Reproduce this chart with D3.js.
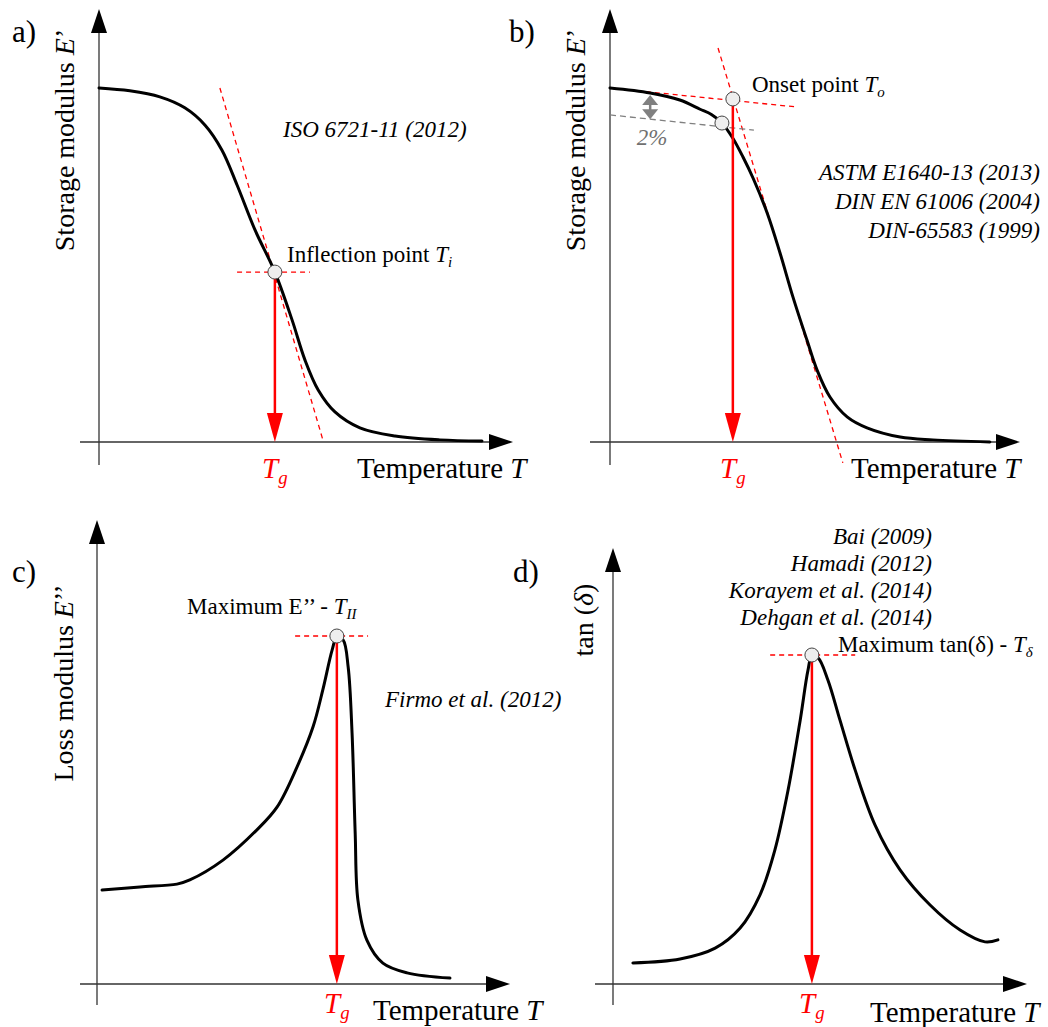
<!DOCTYPE html>
<html>
<head>
<meta charset="utf-8">
<script src="https://cdn.jsdelivr.net/npm/d3@7"></script>
<style>
  html, body { margin: 0; padding: 0; background: #fff; }
  svg { display: block; font-family: "Liberation Serif", "Times New Roman", serif; }
</style>
</head>
<body>
<div id="chart"></div>
<script>
// Normalised units: temperature 0..100 along x, property 0..100 along y
// a) storage modulus, inflection method
const curveA = [[0,100],[7.9,99.2],[15.6,97.5],[22.0,94.4],[27.2,89.5],[31.5,82.5],[35.4,72.6],
  [40.0,59.9],[45.1,48.0],[49.5,34.5],[52.8,23.2],[56.2,14.7],[60.5,8.5],[66.9,4.0],[75.9,1.7],
  [87.4,0.6],[98.2,0.3]];
const tangentA = [[31.0,100],[57.4,0.6]];
const levelA = [[35.4,48],[54.1,48]];
const pointA = [45.1,48];

// b) storage modulus, onset method
const curveB = [[0,100],[10.3,98.6],[17.9,96.6],[23.1,94.0],[26.0,92.5],[28.7,90.1],[31.5,85.8],
  [34.1,80.5],[36.7,74.5],[40.3,64.7],[43.6,53.4],[46.9,41.0],[50.5,28.8],[53.1,20.3],[56.4,12.7],
  [60.8,7.1],[65.9,4.0],[74.4,1.4],[82.8,0.6],[97.4,0]];
const flatTangentB = [[0,100],[48.2,94.6]];
const steepTangentB = [[27.7,111.3],[59.7,-5.9]];
const offsetLineB = [[0,92.4],[36.9,88.1]];
const onsetB = [31.5,96.9];
const offsetPointB = [28.7,90.1];
const gapB = { x: 10.3, top: 98.0, bottom: 91.2 };

// c) loss modulus peak
const curveC = [[1.3,27.0],[11.0,27.9],[20.5,28.7],[23.8,29.9],[32.3,35.6],[41.0,44.3],[46.2,50.9],
  [51.3,62.4],[55.4,73.9],[57.9,84.5],[60.3,96.0],[61.5,99.7],[63.1,98.9],[64.4,91.1],[65.4,72.1],
  [66.2,43.4],[66.9,24.1],[69.2,12.6],[73.3,6.0],[79.5,3.2],[90.5,1.7]];
const levelC = [[50.8,100],[69.5,100]];
const pointC = [61.5,100];

// d) tan delta peak
const curveD = [[5.1,6.4],[17.2,7.6],[26.2,10.9],[32.6,17.0],[37.7,27.1],[41.5,40.7],[44.9,59.0],
  [48.0,80.2],[50.0,95.4],[51.0,99.7],[52.6,99.1],[55.1,92.4],[58.2,80.2],[62.1,65.0],[67.2,48.3],
  [73.6,34.7],[81.3,24.0],[89.0,16.4],[95.4,12.8],[98.7,13.4]];
const levelD = [[40.3,100],[62.1,100]];
const pointD = [51.0,100];

const stdA = ["ISO 6721-11 (2012)"];
const stdB = ["ASTM E1640-13 (2013)", "DIN EN 61006 (2004)", "DIN-65583 (1999)"];
const stdC = ["Firmo et al. (2012)"];
const stdD = ["Bai (2009)", "Hamadi (2012)", "Korayem et al. (2014)", "Dehgan et al. (2014)"];

const width = 1048, height = 1027;
const RED = "#ff0000";

const svg = d3.select("#chart").append("svg")
  .attr("width", width)
  .attr("height", height);

// rich text helper: parts = [{t, it, sub}]
function rich(g, x, y, parts, size, opts = {}) {
  const txt = g.append("text")
    .attr("x", x).attr("y", y)
    .attr("font-size", size)
    .attr("fill", opts.fill || "#000")
    .attr("text-anchor", opts.anchor || "start");
  if (opts.rotate) txt.attr("transform", `rotate(-90,${x},${y})`);
  let shifted = 0;
  parts.forEach(p => {
    const ts = txt.append("tspan").text(p.t);
    if (p.it) ts.attr("font-style", "italic");
    if (p.sub) {
      ts.attr("font-size", size * 0.65).attr("dy", size * 0.2 - shifted);
      shifted = size * 0.2;
    } else if (shifted) {
      ts.attr("dy", -shifted);
      shifted = 0;
    }
  });
  return txt;
}

function drawPanel(cfg) {
  const g = svg.append("g");
  const x = d3.scaleLinear().domain([0, 100]).range([cfg.ox, cfg.ox + cfg.w]);
  const y = d3.scaleLinear().domain([0, 100]).range([cfg.oy, cfg.oy - cfg.h]);
  const line = d3.line().x(d => x(d[0])).y(d => y(d[1]));

  // axes with arrow heads
  g.append("line")
    .attr("x1", cfg.ox).attr("x2", cfg.ox)
    .attr("y1", cfg.axBottom).attr("y2", cfg.axTop + 20)
    .attr("stroke", "#333").attr("stroke-width", 1.3);
  g.append("line")
    .attr("x1", cfg.axLeft).attr("x2", cfg.axRight - 20)
    .attr("y1", cfg.oy).attr("y2", cfg.oy)
    .attr("stroke", "#333").attr("stroke-width", 1.3);
  g.append("path")
    .attr("d", `M${cfg.ox},${cfg.axTop} L${cfg.ox - 8},${cfg.axTop + 24} L${cfg.ox + 8},${cfg.axTop + 24}Z`)
    .attr("fill", "#000");
  g.append("path")
    .attr("d", `M${cfg.axRight},${cfg.oy} L${cfg.axRight - 24},${cfg.oy - 8} L${cfg.axRight - 24},${cfg.oy + 8}Z`)
    .attr("fill", "#000");

  // construction lines
  (cfg.redDash || []).forEach(seg => {
    g.append("path").attr("d", line(seg))
      .attr("fill", "none").attr("stroke", RED)
      .attr("stroke-width", 1.3).attr("stroke-dasharray", "5,4");
  });
  (cfg.grayDash || []).forEach(seg => {
    g.append("path").attr("d", line(seg))
      .attr("fill", "none").attr("stroke", "#808080")
      .attr("stroke-width", 1.3).attr("stroke-dasharray", "6,4");
  });

  // main curve
  g.append("path")
    .attr("d", line.curve(d3.curveCatmullRom.alpha(0.5))(cfg.curve))
    .attr("fill", "none").attr("stroke", "#000")
    .attr("stroke-width", 3).attr("stroke-linecap", "round");
  line.curve(d3.curveLinear);

  // red Tg arrow
  const px = x(cfg.tg[0]), py = y(cfg.tg[1]);
  g.append("line")
    .attr("x1", px).attr("x2", px)
    .attr("y1", py).attr("y2", cfg.oy - 28)
    .attr("stroke", RED).attr("stroke-width", 2.5);
  g.append("path")
    .attr("d", `M${px},${cfg.oy} L${px - 8},${cfg.oy - 29} L${px + 8},${cfg.oy - 29}Z`)
    .attr("fill", RED);

  // marker circles
  (cfg.points || []).forEach(p => {
    g.append("circle")
      .attr("cx", x(p[0])).attr("cy", y(p[1])).attr("r", 7)
      .attr("fill", "#eeeeee").attr("stroke", "#444").attr("stroke-width", 1);
  });

  // labels
  rich(g, px, cfg.tgY, [{ t: "T", it: true }, { t: "g", it: true, sub: true }], 29,
    { fill: RED, anchor: "middle" });
  rich(g, cfg.tempX, cfg.tempY, [{ t: "Temperature " }, { t: "T", it: true }], 29);
  rich(g, cfg.ylab[0], cfg.ylab[1], cfg.ylabParts, 28, { anchor: "middle", rotate: true });
  g.append("text").attr("x", cfg.letter[0]).attr("y", cfg.letter[1])
    .attr("font-size", 31).text(cfg.id + ")");

  // standards
  g.selectAll("text.std").data(cfg.stds).enter().append("text")
    .attr("class", "std")
    .attr("x", cfg.stdPos[0])
    .attr("y", (d, i) => cfg.stdPos[1] + i * cfg.stdStep)
    .attr("text-anchor", cfg.stdAnchor)
    .attr("font-size", 23).attr("font-style", "italic")
    .text(d => d);

  return { g, x, y };
}

// a)
const pa = drawPanel({
  id: "a", ox: 99, oy: 442, w: 390, h: 354, axTop: 9, axBottom: 465, axLeft: 80, axRight: 513,
  curve: curveA, redDash: [tangentA, levelA], points: [pointA], tg: pointA,
  tgY: 478, tempX: 357, tempY: 478,
  ylab: [74, 140], ylabParts: [{ t: "Storage modulus " }, { t: "E", it: true }, { t: "’" }],
  letter: [12, 42], stds: stdA, stdPos: [283, 137], stdStep: 29, stdAnchor: "start"
});
rich(pa.g, 287, 262, [{ t: "Inflection point " }, { t: "T", it: true }, { t: "i", it: true, sub: true }], 23);

// b)
const pb = drawPanel({
  id: "b", ox: 610, oy: 442, w: 390, h: 354, axTop: 9, axBottom: 465, axLeft: 590, axRight: 1020,
  curve: curveB, redDash: [flatTangentB, steepTangentB], grayDash: [offsetLineB],
  points: [onsetB, offsetPointB], tg: onsetB,
  tgY: 478, tempX: 851, tempY: 478,
  ylab: [585, 140], ylabParts: [{ t: "Storage modulus " }, { t: "E", it: true }, { t: "’" }],
  letter: [509, 42], stds: stdB, stdPos: [1040, 180], stdStep: 29, stdAnchor: "end"
});
rich(pb.g, 752, 92, [{ t: "Onset point " }, { t: "T", it: true }, { t: "o", it: true, sub: true }], 23);
{
  const gx = pb.x(gapB.x), gt = pb.y(gapB.top), gb = pb.y(gapB.bottom);
  pb.g.append("line").attr("x1", gx).attr("x2", gx).attr("y1", gt + 8).attr("y2", gb - 8)
    .attr("stroke", "#808080").attr("stroke-width", 2.5);
  pb.g.append("path").attr("d", `M${gx},${gt} L${gx - 8},${gt + 10} L${gx + 8},${gt + 10}Z`).attr("fill", "#808080");
  pb.g.append("path").attr("d", `M${gx},${gb} L${gx - 8},${gb - 10} L${gx + 8},${gb - 10}Z`).attr("fill", "#808080");
  pb.g.append("text").attr("x", gx + 2).attr("y", 145).attr("text-anchor", "middle")
    .attr("font-size", 23).attr("font-style", "italic").attr("fill", "#707070").text("2%");
}

// c)
const pc = drawPanel({
  id: "c", ox: 97, oy: 984, w: 390, h: 348, axTop: 520, axBottom: 1005, axLeft: 80, axRight: 510,
  curve: curveC, redDash: [levelC], points: [pointC], tg: pointC,
  tgY: 1013, tempX: 373, tempY: 1020,
  ylab: [73, 683], ylabParts: [{ t: "Loss modulus " }, { t: "E", it: true }, { t: "’’" }],
  letter: [12, 582], stds: stdC, stdPos: [385, 707], stdStep: 29, stdAnchor: "start"
});
rich(pc.g, 187, 614, [{ t: "Maximum E’’ - " }, { t: "T", it: true }, { t: "II", it: true, sub: true }], 23);

// d)
const pd = drawPanel({
  id: "d", ox: 613, oy: 984, w: 390, h: 329, axTop: 548, axBottom: 1005, axLeft: 595, axRight: 1027,
  curve: curveD, redDash: [levelD], points: [pointD], tg: pointD,
  tgY: 1013, tempX: 870, tempY: 1022,
  ylab: [593, 620], ylabParts: [{ t: "tan (" }, { t: "δ", it: true }, { t: ")" }],
  letter: [513, 582], stds: stdD, stdPos: [932, 544], stdStep: 27, stdAnchor: "end"
});
rich(pd.g, 838, 652, [{ t: "Maximum tan(δ) - " }, { t: "T", it: true }, { t: "δ", it: true, sub: true }], 23);
</script>
</body>
</html>
